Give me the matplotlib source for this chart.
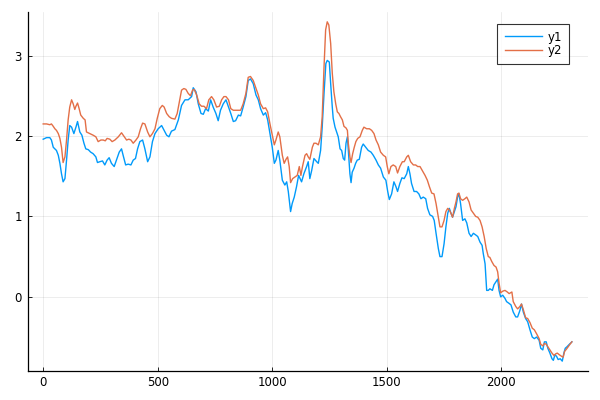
import matplotlib
matplotlib.use("Agg")
import matplotlib.pyplot as plt

# ---- data ----
x1 = [0, 15, 29, 36, 44, 58, 66, 73, 80, 87, 95, 102, 109, 116, 124, 134, 143, 150, 160, 169,
      178, 186, 197, 207, 218, 230, 237, 247, 259, 269, 279, 288, 298, 310, 320, 332, 342, 349, 360, 371,
      383, 393, 403, 412, 422, 434, 444, 456, 466, 477, 488, 502, 517, 528, 539, 549, 560, 575, 590, 604,
      619, 633, 648, 655, 667, 677, 689, 699, 709, 721, 731, 742, 754, 764, 774, 786, 798, 809, 819, 830,
      840, 852, 862, 873, 885, 895, 905, 917, 929, 939, 949, 961, 971, 980, 990, 1000, 1009, 1016, 1026, 1033,
      1044, 1055, 1063, 1070, 1080, 1087, 1096, 1106, 1115, 1128, 1138, 1150, 1157, 1164, 1172, 1182, 1194, 1201, 1211, 1218,
      1226, 1234, 1240, 1249, 1255, 1262, 1266, 1274, 1281, 1288, 1296, 1303, 1310, 1316, 1322, 1328, 1332, 1339, 1344, 1349,
      1357, 1364, 1371, 1380, 1390, 1397, 1408, 1419, 1431, 1441, 1453, 1463, 1473, 1485, 1496, 1504, 1511, 1521, 1531, 1540,
      1547, 1557, 1566, 1576, 1587, 1594, 1601, 1608, 1619, 1630, 1640, 1649, 1659, 1670, 1678, 1688, 1700, 1707, 1715, 1725,
      1732, 1741, 1750, 1758, 1766, 1773, 1780, 1787, 1795, 1802, 1809, 1815, 1822, 1831, 1841, 1849, 1859, 1868, 1878, 1888,
      1897, 1907, 1916, 1921, 1929, 1936, 1943, 1950, 1961, 1968, 1977, 1984, 1990, 1997, 2006, 2016, 2023, 2033, 2042, 2052,
      2063, 2071, 2081, 2088, 2096, 2106, 2115, 2125, 2135, 2144, 2154, 2165, 2172, 2181, 2188, 2196, 2203, 2212, 2221, 2227,
      2234, 2241, 2248, 2257, 2266, 2273, 2279, 2287, 2297, 2308]
y1 = [1.96, 1.98, 1.98, 1.95, 1.86, 1.82, 1.76, 1.66, 1.53, 1.43, 1.47, 1.70, 1.95, 2.13, 2.11, 2.03, 2.11, 2.18, 2.05, 2.01,
      1.91, 1.84, 1.83, 1.80, 1.78, 1.74, 1.67, 1.68, 1.69, 1.64, 1.70, 1.73, 1.66, 1.62, 1.70, 1.80, 1.84, 1.76, 1.64, 1.65,
      1.64, 1.70, 1.72, 1.84, 1.93, 1.95, 1.84, 1.68, 1.74, 1.93, 2.03, 2.09, 2.13, 2.07, 2.01, 1.99, 2.06, 2.08, 2.20, 2.38,
      2.45, 2.45, 2.49, 2.60, 2.55, 2.40, 2.28, 2.27, 2.34, 2.31, 2.45, 2.36, 2.28, 2.19, 2.32, 2.40, 2.45, 2.36, 2.28, 2.18,
      2.19, 2.26, 2.25, 2.36, 2.49, 2.69, 2.71, 2.65, 2.51, 2.45, 2.34, 2.26, 2.29, 2.20, 2.03, 1.86, 1.66, 1.70, 1.82, 1.70,
      1.45, 1.39, 1.43, 1.31, 1.06, 1.16, 1.24, 1.37, 1.51, 1.43, 1.53, 1.62, 1.68, 1.47, 1.57, 1.72, 1.68, 1.66, 1.82, 2.11,
      2.53, 2.90, 2.94, 2.92, 2.65, 2.36, 2.22, 2.11, 2.05, 1.99, 1.84, 1.82, 1.72, 1.70, 1.91, 1.99, 1.82, 1.53, 1.42, 1.55,
      1.60, 1.66, 1.70, 1.71, 1.86, 1.90, 1.86, 1.82, 1.80, 1.76, 1.70, 1.64, 1.60, 1.49, 1.45, 1.31, 1.21, 1.28, 1.43, 1.37,
      1.31, 1.41, 1.48, 1.47, 1.53, 1.62, 1.53, 1.41, 1.31, 1.31, 1.28, 1.22, 1.24, 1.22, 1.10, 1.02, 1.00, 0.95, 0.79, 0.60,
      0.50, 0.50, 0.66, 0.87, 1.04, 1.10, 1.04, 0.99, 1.06, 1.12, 1.24, 1.28, 1.16, 0.95, 0.97, 0.92, 0.79, 0.75, 0.79, 0.77,
      0.75, 0.68, 0.64, 0.54, 0.41, 0.08, 0.08, 0.10, 0.08, 0.15, 0.19, 0.22, 0.08, 0.00, 0.02, -0.02, -0.06, -0.08, -0.10, -0.19,
      -0.25, -0.25, -0.17, -0.09, -0.19, -0.27, -0.31, -0.41, -0.50, -0.52, -0.50, -0.54, -0.64, -0.66, -0.56, -0.56, -0.64, -0.70, -0.77, -0.79,
      -0.72, -0.74, -0.78, -0.77, -0.80, -0.70, -0.64, -0.62, -0.59, -0.56]

x2 = [0, 15, 29, 36, 44, 51, 58, 66, 73, 80, 87, 95, 102, 109, 116, 124, 131, 138, 143, 150,
      157, 164, 175, 183, 189, 204, 218, 230, 240, 252, 262, 271, 279, 291, 301, 313, 328, 342, 354, 364,
      374, 383, 393, 405, 415, 425, 434, 444, 456, 466, 477, 488, 498, 509, 520, 528, 539, 550, 560, 575,
      585, 594, 604, 614, 623, 633, 643, 652, 659, 670, 681, 691, 702, 713, 723, 735, 745, 757, 769, 779,
      789, 798, 809, 819, 830, 840, 852, 862, 873, 885, 895, 905, 917, 929, 939, 949, 961, 971, 980, 990,
      1000, 1009, 1016, 1026, 1033, 1044, 1052, 1060, 1067, 1074, 1080, 1089, 1099, 1109, 1118, 1125, 1132, 1143, 1150, 1157,
      1164, 1175, 1182, 1191, 1201, 1211, 1218, 1226, 1233, 1240, 1247, 1255, 1262, 1269, 1277, 1284, 1291, 1298, 1306, 1313,
      1322, 1328, 1332, 1339, 1344, 1351, 1358, 1365, 1373, 1383, 1393, 1400, 1412, 1424, 1434, 1444, 1453, 1463, 1473, 1485,
      1495, 1502, 1509, 1518, 1528, 1539, 1547, 1557, 1568, 1576, 1587, 1594, 1604, 1616, 1626, 1635, 1645, 1655, 1667, 1677,
      1686, 1696, 1706, 1715, 1725, 1732, 1741, 1750, 1758, 1766, 1773, 1780, 1787, 1795, 1802, 1809, 1815, 1822, 1831, 1841,
      1849, 1859, 1868, 1878, 1888, 1897, 1907, 1916, 1925, 1934, 1943, 1950, 1958, 1968, 1977, 1984, 1990, 1997, 2006, 2016,
      2026, 2034, 2046, 2052, 2063, 2071, 2081, 2088, 2096, 2106, 2115, 2125, 2135, 2144, 2154, 2165, 2172, 2181, 2188, 2196,
      2203, 2212, 2221, 2230, 2237, 2244, 2253, 2263, 2270, 2276, 2287, 2297, 2308]
y2 = [2.15, 2.15, 2.14, 2.15, 2.12, 2.09, 2.07, 2.03, 1.97, 1.86, 1.67, 1.74, 1.95, 2.20, 2.36, 2.45, 2.40, 2.33, 2.37, 2.41,
      2.34, 2.26, 2.22, 2.20, 2.05, 2.03, 2.01, 1.99, 1.93, 1.95, 1.95, 1.94, 1.97, 1.96, 1.93, 1.95, 1.99, 2.04, 1.99, 1.95,
      1.96, 1.95, 1.91, 1.95, 1.99, 2.09, 2.16, 2.15, 2.05, 1.99, 2.03, 2.09, 2.22, 2.34, 2.38, 2.36, 2.28, 2.24, 2.22, 2.21,
      2.28, 2.42, 2.57, 2.59, 2.58, 2.53, 2.50, 2.57, 2.58, 2.51, 2.40, 2.37, 2.37, 2.34, 2.45, 2.49, 2.45, 2.36, 2.37, 2.45,
      2.49, 2.49, 2.45, 2.34, 2.32, 2.32, 2.32, 2.32, 2.40, 2.53, 2.73, 2.74, 2.69, 2.59, 2.51, 2.40, 2.34, 2.35, 2.30, 2.15,
      2.01, 1.89, 1.95, 2.05, 1.99, 1.76, 1.66, 1.71, 1.74, 1.62, 1.42, 1.47, 1.49, 1.51, 1.62, 1.51, 1.62, 1.76, 1.78, 1.74,
      1.71, 1.86, 1.91, 1.91, 1.89, 1.99, 2.24, 2.86, 3.32, 3.42, 3.38, 3.15, 2.78, 2.55, 2.40, 2.30, 2.28, 2.24, 2.20, 2.12,
      2.10, 2.07, 1.91, 1.74, 1.67, 1.78, 1.86, 1.93, 1.97, 1.99, 2.07, 2.11, 2.09, 2.09, 2.07, 2.03, 1.95, 1.89, 1.80, 1.76,
      1.74, 1.62, 1.53, 1.62, 1.64, 1.62, 1.54, 1.62, 1.68, 1.68, 1.74, 1.76, 1.68, 1.64, 1.64, 1.62, 1.62, 1.57, 1.51, 1.45,
      1.37, 1.29, 1.28, 1.16, 0.99, 0.87, 0.87, 0.95, 1.06, 1.10, 1.08, 1.04, 0.99, 1.10, 1.18, 1.28, 1.29, 1.22, 1.20, 1.22,
      1.24, 1.18, 1.08, 1.04, 1.00, 0.99, 0.95, 0.87, 0.75, 0.60, 0.50, 0.49, 0.44, 0.39, 0.37, 0.31, 0.17, 0.05, 0.07, 0.08,
      0.06, 0.04, 0.06, -0.06, -0.12, -0.15, -0.12, -0.09, -0.16, -0.26, -0.27, -0.32, -0.39, -0.41, -0.46, -0.52, -0.59, -0.61, -0.58, -0.59,
      -0.62, -0.66, -0.70, -0.73, -0.71, -0.70, -0.72, -0.74, -0.75, -0.68, -0.64, -0.60, -0.56]

labels = ["y1", "y2"]
colors = ["#009AFA", "#E36F47"]
xticks = [0, 500, 1000, 1500, 2000]
yticks = [0, 1, 2, 3]

fig = plt.figure(figsize=(6, 4), dpi=100)
ax = fig.add_axes([0.046, 0.073, 0.9335, 0.896])
ax.plot(x1, y1, color=colors[0], lw=1.0, label=labels[0])
ax.plot(x2, y2, color=colors[1], lw=1.0, label=labels[1])

ax.set_xlim(-68, 2377)
ax.set_ylim(-0.92, 3.537)
ax.set_xticks(xticks)
ax.set_yticks(yticks)
ax.grid(True, color="black", alpha=0.1, lw=0.5)
for s in ["top", "right"]:
    ax.spines[s].set_visible(False)
for s in ["left", "bottom"]:
    ax.spines[s].set_linewidth(0.9)
ax.tick_params(direction="in", length=3, width=0.6, labelsize=8.5, colors="black", pad=4)

leg = ax.legend(loc="upper right", bbox_to_anchor=(0.967, 0.969), fontsize=8.5, frameon=True,
                fancybox=False, handlelength=3.2, borderpad=0.6, labelspacing=0.05,
                handletextpad=0.45, borderaxespad=0)
leg.get_frame().set_edgecolor("black")
leg.get_frame().set_linewidth(0.8)

fig.savefig("out.png", dpi=100)
